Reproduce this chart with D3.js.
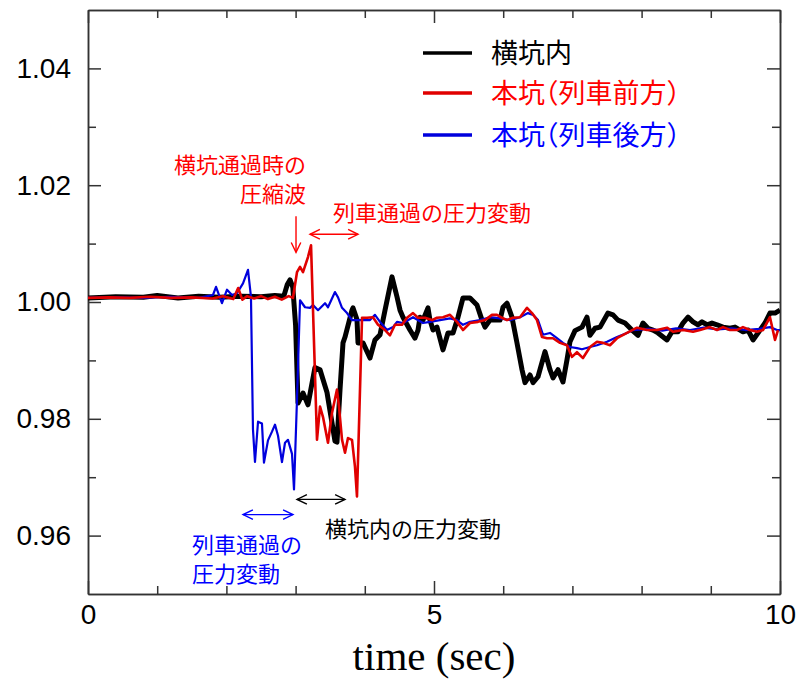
<!DOCTYPE html>
<html lang="ja">
<head>
  <meta charset="UTF-8">
  <title>Pressure vs time</title>
  <script src="https://d3js.org/d3.v7.min.js"></script>
  <style>
    body {
      margin: 0;
      background-color: #fff;
    }
    svg {
      display: block;
    }
    .axis path, .axis line {
      stroke: #333;
      stroke-width: 1.5;
    }
    .axis text {
      font-family: "Liberation Sans", Arial, sans-serif;
      font-size: 28px;
      fill: #000;
    }
    .jp {
      font-family: "Noto Sans CJK JP", sans-serif;
      font-feature-settings: "halt";
    }
    .axis-label {
      font-family: "Liberation Serif", "DejaVu Serif", serif;
      font-size: 41px;
    }
  </style>
</head>
<body>
  <svg></svg>
  <script>
    // time (sec), pressure ratio
    const crossPassage = [
      [0, 1.0007], [0.4, 1.0009], [0.8, 1.0008], [1.0, 1.0011], [1.3, 1.0007], [1.6, 1.0010],
      [1.9, 1.0008], [2.2, 1.0010], [2.5, 1.0009], [2.7, 1.0011], [2.83, 1.0010], [2.88, 1.0030],
      [2.92, 1.0038], [2.96, 1.0025], [3.00, 0.9960], [3.035, 0.9827], [3.107, 0.9844], [3.179, 0.9824],
      [3.28, 0.9888], [3.353, 0.9884], [3.454, 0.9845], [3.569, 0.9762], [3.598, 0.9760], [3.642, 0.9850],
      [3.685, 0.9930], [3.714, 0.9940], [3.815, 0.9986], [3.829, 0.9990], [3.887, 0.9970], [3.902, 0.9930],
      [3.974, 0.9930], [4.075, 0.9904], [4.147, 0.9935], [4.22, 0.9944], [4.292, 0.9986], [4.393, 1.0043],
      [4.465, 1.0009], [4.509, 0.9986], [4.552, 0.9974], [4.653, 0.9952], [4.725, 0.9938], [4.769, 0.9952],
      [4.798, 0.9974], [4.841, 0.9969], [4.913, 0.9990], [4.942, 0.9969], [4.986, 0.9952], [5.043, 0.9957],
      [5.13, 0.9918], [5.202, 0.9947], [5.275, 0.9947], [5.347, 0.9974], [5.419, 1.0007], [5.52, 1.0007],
      [5.621, 0.9995], [5.694, 0.9969], [5.737, 0.9957], [5.809, 0.9969], [5.954, 0.9969], [5.997, 0.9991],
      [6.055, 0.9998], [6.127, 0.9974], [6.199, 0.9930], [6.272, 0.9884], [6.315, 0.9862], [6.387, 0.9875],
      [6.431, 0.9862], [6.503, 0.9872], [6.604, 0.9915], [6.676, 0.9884], [6.72, 0.9870], [6.792, 0.9884],
      [6.864, 0.9863], [6.922, 0.9901], [6.965, 0.9932], [7.038, 0.9951], [7.139, 0.9957], [7.211, 0.9974],
      [7.254, 0.9943], [7.327, 0.9955], [7.399, 0.9957], [7.514, 0.9981], [7.587, 0.9978], [7.659, 0.9969],
      [7.76, 0.9964], [7.861, 0.9952], [7.948, 0.9943], [8.02, 0.9964], [8.092, 0.9955], [8.165, 0.9952],
      [8.237, 0.9947], [8.367, 0.9935], [8.439, 0.9949], [8.526, 0.9949], [8.598, 0.9964], [8.671, 0.9974],
      [8.743, 0.9966], [8.815, 0.9961], [8.873, 0.9966], [8.945, 0.9961], [9.017, 0.9964], [9.09, 0.9961],
      [9.176, 0.9957], [9.277, 0.9955], [9.35, 0.9957], [9.465, 0.9949], [9.538, 0.9952], [9.61, 0.9935],
      [9.682, 0.9947], [9.783, 0.9964], [9.855, 0.9981], [9.928, 0.9981], [10, 0.9986]
    ];

    const mainAhead = [
      [0, 1.0007], [0.3, 1.0008], [0.6, 1.0007], [0.9, 1.0009], [1.2, 1.0007], [1.5, 1.0008],
      [1.8, 1.0006], [1.95, 1.0010], [2.1, 1.0005], [2.17, 1.0024], [2.23, 1.0004], [2.3, 1.0010],
      [2.4, 1.0006], [2.5, 1.0010], [2.6, 1.0005], [2.7, 1.0009], [2.8, 1.0004], [2.9, 1.0010],
      [2.962, 1.0007], [3.02, 1.0051], [3.064, 1.0060], [3.107, 1.0051], [3.179, 1.0077], [3.223, 1.0097],
      [3.309, 0.9764], [3.353, 0.9821], [3.396, 0.9803], [3.468, 0.9759], [3.526, 0.9810], [3.598, 0.9850],
      [3.627, 0.9821], [3.671, 0.9764], [3.714, 0.9742], [3.757, 0.9767], [3.815, 0.9764], [3.858, 0.9718],
      [3.887, 0.9667], [3.96, 0.9973], [4.032, 0.9973], [4.118, 0.9974], [4.191, 0.9961], [4.292, 0.9952],
      [4.364, 0.9943], [4.436, 0.9961], [4.538, 0.9961], [4.61, 0.9973], [4.697, 0.9981], [4.769, 0.9973],
      [4.87, 0.9973], [4.971, 0.9969], [5.043, 0.9973], [5.13, 0.9974], [5.231, 0.9978], [5.332, 0.9966],
      [5.419, 0.9952], [5.52, 0.9964], [5.636, 0.9966], [5.737, 0.9969], [5.838, 0.9978], [5.91, 0.9978],
      [5.983, 0.9973], [6.055, 0.9969], [6.142, 0.9973], [6.243, 0.9974], [6.344, 0.9990], [6.416, 0.9981],
      [6.488, 0.9969], [6.561, 0.9940], [6.633, 0.9938], [6.72, 0.9938], [6.821, 0.9930], [6.922, 0.9926],
      [6.994, 0.9906], [7.066, 0.9914], [7.153, 0.9904], [7.254, 0.9923], [7.355, 0.9932], [7.442, 0.9930],
      [7.543, 0.9926], [7.645, 0.9938], [7.789, 0.9947], [7.934, 0.9956], [8.078, 0.9952], [8.223, 0.9952],
      [8.367, 0.9956], [8.454, 0.9949], [8.598, 0.9952], [8.743, 0.9949], [8.844, 0.9952], [8.988, 0.9957],
      [9.09, 0.9952], [9.176, 0.9957], [9.277, 0.9952], [9.379, 0.9952], [9.465, 0.9957], [9.566, 0.9952],
      [9.668, 0.9949], [9.754, 0.9952], [9.855, 0.9974], [9.928, 0.9935], [9.971, 0.9952]
    ];

    const mainBehind = [
      [0, 1.0007], [0.4, 1.0008], [0.8, 1.0007], [1.2, 1.0009], [1.6, 1.0007], [1.806, 1.0012],
      [1.85, 1.0026], [1.936, 0.9998], [2.009, 1.0021], [2.081, 1.0012], [2.153, 1.0015], [2.24, 1.0032],
      [2.312, 1.0055], [2.355, 1.0009], [2.384, 0.9782], [2.413, 0.9726], [2.457, 0.9795], [2.514, 0.9792],
      [2.543, 0.9725], [2.601, 0.9763], [2.659, 0.9778], [2.702, 0.9790], [2.746, 0.9771], [2.803, 0.9726],
      [2.847, 0.9759], [2.89, 0.9764], [2.948, 0.9740], [2.977, 0.9679], [3.02, 0.9833], [3.064, 1.0003],
      [3.136, 0.9991], [3.208, 0.9990], [3.251, 0.9995], [3.324, 0.9986], [3.425, 0.9998], [3.468, 0.9991],
      [3.569, 1.0017], [3.613, 1.0008], [3.671, 0.9990], [3.743, 0.9981], [3.815, 0.9969], [3.887, 0.9969],
      [3.974, 0.9969], [4.075, 0.9969], [4.147, 0.9978], [4.22, 0.9966], [4.321, 0.9952], [4.408, 0.9957],
      [4.465, 0.9966], [4.552, 0.9964], [4.697, 0.9974], [4.841, 0.9964], [4.942, 0.9966], [5.087, 0.9969],
      [5.231, 0.9972], [5.332, 0.9969], [5.419, 0.9961], [5.52, 0.9966], [5.665, 0.9969], [5.809, 0.9974],
      [5.954, 0.9972], [6.098, 0.9969], [6.243, 0.9974], [6.358, 0.9981], [6.431, 0.9978], [6.503, 0.9969],
      [6.575, 0.9944], [6.676, 0.9947], [6.777, 0.9938], [6.864, 0.9930], [6.965, 0.9923], [7.066, 0.9921],
      [7.138, 0.9919], [7.254, 0.9923], [7.355, 0.9926], [7.5, 0.9932], [7.645, 0.9940], [7.789, 0.9947],
      [7.876, 0.9952], [8.1, 0.9954], [8.3, 0.9951], [8.5, 0.9955], [8.7, 0.9952], [8.9, 0.9956],
      [9.1, 0.9953], [9.3, 0.9955], [9.5, 0.9952], [9.7, 0.9954], [9.855, 0.9957], [9.957, 0.9952], [10, 0.9952]
    ];

    const seriesNames = ["横坑内", "本坑（列車前方）", "本坑（列車後方）"];
    const xMajorTicks = [0, 5, 10];
    const xMinorTicks = [1, 2, 3, 4, 6, 7, 8, 9];
    const yMajorTicks = [0.96, 0.98, 1.00, 1.02, 1.04];
    const yMinorTicks = [0.97, 0.99, 1.01, 1.03];

    const width = 802, height = 682;
    const margin = { top: 10, right: 22, bottom: 88, left: 88 };
    const innerW = width - margin.left - margin.right;
    const innerH = height - margin.top - margin.bottom;

    const x = d3.scaleLinear().domain([0, 10]).range([0, innerW]);
    const y = d3.scaleLinear().domain([0.95, 1.05]).range([innerH, 0]);

    const svg = d3.select("svg")
      .attr("width", width)
      .attr("height", height);

    const g = svg.append("g")
      .attr("transform", "translate(" + margin.left + "," + margin.top + ")");

    // clip lines to the frame
    svg.append("defs").append("clipPath").attr("id", "plot")
      .append("rect").attr("width", innerW).attr("height", innerH);

    // axes: ticks point inward on all four sides
    g.append("g").attr("class", "axis")
      .attr("transform", "translate(0," + innerH + ")")
      .call(d3.axisBottom(x).tickValues(xMajorTicks).tickSize(-13).tickSizeOuter(0).tickPadding(10).tickFormat(d3.format("d")));
    g.append("g").attr("class", "axis")
      .attr("transform", "translate(0," + innerH + ")")
      .call(d3.axisBottom(x).tickValues(xMinorTicks).tickSize(-8).tickSizeOuter(0).tickFormat(""));
    g.append("g").attr("class", "axis")
      .call(d3.axisTop(x).tickValues(xMajorTicks).tickSize(-13).tickSizeOuter(0).tickFormat(""));
    g.append("g").attr("class", "axis")
      .call(d3.axisTop(x).tickValues(xMinorTicks).tickSize(-8).tickSizeOuter(0).tickFormat(""));

    g.append("g").attr("class", "axis")
      .call(d3.axisLeft(y).tickValues(yMajorTicks).tickSize(-13).tickSizeOuter(0).tickPadding(17).tickFormat(d3.format(".2f")));
    g.append("g").attr("class", "axis")
      .call(d3.axisLeft(y).tickValues(yMinorTicks).tickSize(-8).tickSizeOuter(0).tickFormat(""));
    g.append("g").attr("class", "axis")
      .attr("transform", "translate(" + innerW + ",0)")
      .call(d3.axisRight(y).tickValues(yMajorTicks).tickSize(-13).tickSizeOuter(0).tickFormat(""));
    g.append("g").attr("class", "axis")
      .attr("transform", "translate(" + innerW + ",0)")
      .call(d3.axisRight(y).tickValues(yMinorTicks).tickSize(-8).tickSizeOuter(0).tickFormat(""));

    // axis title
    svg.append("text")
      .attr("class", "axis-label")
      .attr("x", margin.left + x(5))
      .attr("y", 670)
      .attr("text-anchor", "middle")
      .text("time (sec)");

    // lines
    const line = d3.line()
      .x(d => x(d[0]))
      .y(d => y(d[1]));

    const plot = g.append("g").attr("clip-path", "url(#plot)");
    const series = [
      { data: crossPassage, color: "#000", w: 5 },
      { data: mainBehind, color: "#0000dd", w: 2.2 },
      { data: mainAhead, color: "#e00000", w: 2.6 }
    ];
    series.forEach(s => {
      plot.append("path")
        .datum(s.data)
        .attr("fill", "none")
        .attr("stroke", s.color)
        .attr("stroke-width", s.w)
        .attr("stroke-linejoin", "round")
        .attr("d", line);
    });

    // legend
    const legendColors = ["#000", "#e00000", "#0000dd"];
    const legendText = ["#000", "#ff0000", "#0000ff"];
    const legend = g.append("g").attr("transform", "translate(335,43)");
    seriesNames.forEach((name, i) => {
      const row = legend.append("g").attr("transform", "translate(0," + [0, 40, 82][i] + ")");
      row.append("line")
        .attr("x1", 0).attr("x2", 49)
        .attr("stroke", legendColors[i])
        .attr("stroke-width", 3.5);
      row.append("text")
        .attr("class", "jp")
        .attr("x", 68)
        .attr("y", 10)
        .attr("font-size", 27)
        .attr("fill", legendText[i])
        .text(name);
    });

    // annotation arrows
    function arrowHead(sel, px, py, dir, color) {
      // open V head pointing in dir (radians)
      const L = 11, a = 0.45;
      sel.append("path")
        .attr("d", "M" + (px - L * Math.cos(dir - a)) + "," + (py - L * Math.sin(dir - a)) +
          "L" + px + "," + py +
          "L" + (px - L * Math.cos(dir + a)) + "," + (py - L * Math.sin(dir + a)))
        .attr("fill", "none")
        .attr("stroke", color)
        .attr("stroke-width", 1.4);
    }

    function doubleArrow(t0, t1, p, color) {
      const x0 = x(t0), x1 = x(t1), yy = y(p);
      g.append("line")
        .attr("x1", x0).attr("x2", x1).attr("y1", yy).attr("y2", yy)
        .attr("stroke", color).attr("stroke-width", 1.4);
      arrowHead(g, x0, yy, Math.PI, color);
      arrowHead(g, x1, yy, 0, color);
    }

    // compression wave arrow
    const ax = x(3.006);
    g.append("line")
      .attr("x1", ax).attr("x2", ax)
      .attr("y1", y(1.0147)).attr("y2", y(1.0085))
      .attr("stroke", "#ff0000").attr("stroke-width", 1.4);
    arrowHead(g, ax, y(1.0085), Math.PI / 2, "#ff0000");

    doubleArrow(3.208, 3.902, 1.0116, "#ff0000");
    doubleArrow(3.02, 3.714, 0.9662, "#000");
    doubleArrow(2.24, 2.962, 0.9636, "#0000ff");

    function note(lines, tx, ty, anchor, color) {
      const t = svg.append("text")
        .attr("class", "jp")
        .attr("font-size", 22)
        .attr("fill", color)
        .attr("text-anchor", anchor);
      lines.forEach((s, i) => {
        t.append("tspan").attr("x", tx).attr("y", ty + i * 29).text(s);
      });
    }

    note(["横坑通過時の", "圧縮波"], 306, 173, "end", "#ff0000");
    note(["列車通過の圧力変動"], 333, 221, "start", "#ff0000");
    note(["横坑内の圧力変動"], 325, 537, "start", "#000");
    note(["列車通過の", "圧力変動"], 192, 553, "start", "#0000ff");
  </script>
</body>
</html>
